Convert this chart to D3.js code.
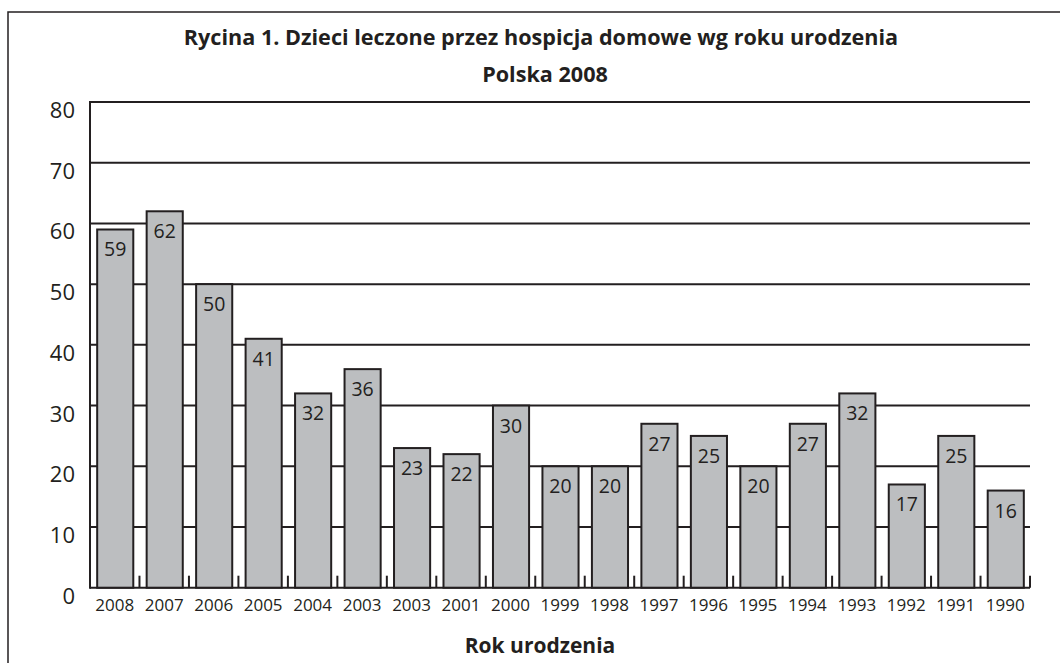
<!DOCTYPE html>
<html><head><meta charset="utf-8">
<script src="https://cdn.jsdelivr.net/npm/d3@7"></script>
<style>
html,body{margin:0;padding:0;background:#fff;}
svg{display:block;}
text{font-family:"Open Sans",sans-serif;fill:#231f20;}
</style></head>
<body><svg id="c" width="1060" height="663"></svg>
<script>
const years = ["2008","2007","2006","2005","2004","2003","2003","2001","2000","1999","1998","1997","1996","1995","1994","1993","1992","1991","1990"];
const counts = [59,62,50,41,32,36,23,22,30,20,20,27,25,20,27,32,17,25,16];
const yTicks = [0,10,20,30,40,50,60,70,80];
const title1 = "Rycina 1. Dzieci leczone przez hospicja domowe wg roku urodzenia";
const title2 = "Polska 2008";
const xTitle = "Rok urodzenia";

const svg = d3.select("#c");
const ink = "#231f20";
const L = 90, R = 1030, T = 102, B = 587.7;

svg.append("rect").attr("x",8).attr("y",12).attr("width",1100).attr("height",700)
  .attr("fill","none").attr("stroke",ink).attr("stroke-width",1.5);

const idx = years.map((d,i)=>i);
const x = d3.scaleBand().domain(idx).range([L,R]).paddingInner(0.27).paddingOuter(0.135);
const y = d3.scaleLinear().domain([0,80]).range([B,T]);
const step = x.step();

// gridlines
svg.append("g").selectAll("line").data(yTicks).join("line")
  .attr("x1",L).attr("x2",R).attr("y1",d=>y(d)).attr("y2",d=>y(d))
  .attr("stroke",ink).attr("stroke-width",2);

// y axis line
svg.append("line").attr("x1",L).attr("x2",L).attr("y1",T-1).attr("y2",B+1)
  .attr("stroke",ink).attr("stroke-width",2);

// y labels
svg.append("g").selectAll("text").data(yTicks).join("text")
  .attr("x",75).attr("y",d=>y(d)+16).attr("text-anchor","end")
  .attr("font-size",22).text(d=>d);

// category tick marks at boundaries
const bounds = d3.range(years.length+1).map(k=>L+k*step);
svg.append("g").selectAll("line").data(bounds).join("line")
  .attr("x1",d=>d).attr("x2",d=>d).attr("y1",B).attr("y2",B-12)
  .attr("stroke",ink).attr("stroke-width",2);

// bars
svg.append("g").selectAll("rect").data(counts).join("rect")
  .attr("x",(d,i)=>x(i)+0.5).attr("width",x.bandwidth())
  .attr("y",d=>y(d)).attr("height",d=>B-y(d))
  .attr("fill","#bcbec0").attr("stroke",ink).attr("stroke-width",2);

// bar labels
svg.append("g").selectAll("text").data(counts).join("text")
  .attr("x",(d,i)=>x(i)+0.5+x.bandwidth()/2).attr("y",d=>y(d)+27)
  .attr("text-anchor","middle").attr("font-size",19.5).text(d=>d);

// x labels
svg.append("g").selectAll("text").data(years).join("text")
  .attr("x",(d,i)=>x(i)+x.bandwidth()/2).attr("y",611)
  .attr("text-anchor","middle").attr("font-size",17).text(d=>d);

// titles
svg.append("text").attr("x",541).attr("y",45).attr("text-anchor","middle")
  .attr("font-size",21.6).attr("font-weight","bold").text(title1);
svg.append("text").attr("x",545).attr("y",82).attr("text-anchor","middle")
  .attr("font-size",21.6).attr("font-weight","bold").text(title2);
svg.append("text").attr("x",540).attr("y",653).attr("text-anchor","middle")
  .attr("font-size",21).attr("font-weight","bold").text(xTitle);
</script></body></html>
